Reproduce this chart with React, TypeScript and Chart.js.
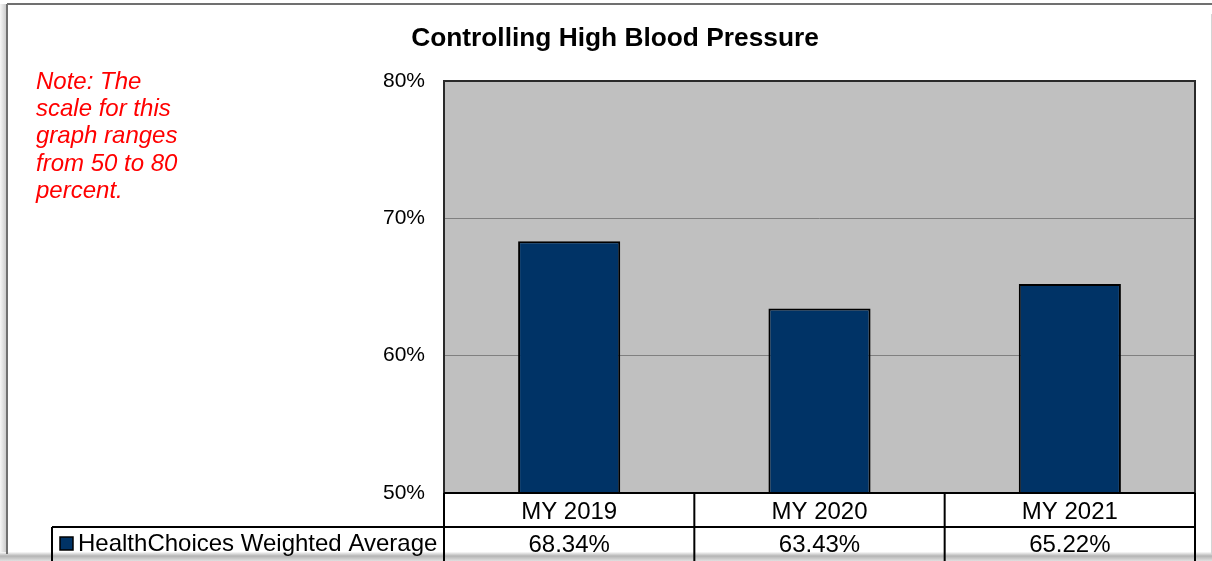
import React, { useEffect, useRef } from "react";
import { Chart, registerables } from "chart.js";

Chart.register(...registerables);

const TITLE = "Controlling High Blood Pressure";
const NOTE_LINES = ["Note: The", "scale for this", "graph ranges", "from 50 to 80", "percent."];
const CATEGORIES = ["MY 2019", "MY 2020", "MY 2021"];
const SERIES_LABEL = "HealthChoices Weighted Average";
const VALUES = [68.34, 63.43, 65.22];
const Y_MIN = 50;
const Y_MAX = 80;
const Y_STEP = 10;

const FONT = "'Liberation Sans', Arial, Helvetica, sans-serif";
const BAR_COLOR = "#003366";
const W = 1212;
const H = 561;

const decor = {
  id: "decor",
  beforeDraw(chart: any) {
    const { ctx, chartArea: a } = chart;
    ctx.save();
    ctx.fillStyle = "#ffffff";
    ctx.fillRect(0, 0, W, H);

    // outer frame shadow (left)
    let g = ctx.createLinearGradient(0, 0, 7, 0);
    g.addColorStop(0, "#f6f6f6");
    g.addColorStop(1, "#c6c6c6");
    ctx.fillStyle = g;
    ctx.fillRect(0, 4, 7, H - 4);
    // bottom band
    g = ctx.createLinearGradient(0, 552, 0, H);
    g.addColorStop(0, "#fafafa");
    g.addColorStop(0.45, "#b4b4b4");
    g.addColorStop(1, "#e0e0e0");
    ctx.fillStyle = g;
    ctx.fillRect(0, 552, W, H - 552);

    // frame lines
    ctx.strokeStyle = "#707070";
    ctx.lineWidth = 2;
    ctx.beginPath();
    ctx.moveTo(7, 4);
    ctx.lineTo(W, 4);
    ctx.stroke();
    ctx.beginPath();
    ctx.moveTo(7, 4);
    ctx.lineTo(7, 554);
    ctx.stroke();
    ctx.strokeStyle = "#d4d4d4";
    ctx.lineWidth = 1;
    ctx.beginPath();
    ctx.moveTo(1211.5, 14);
    ctx.lineTo(1211.5, 554);
    ctx.stroke();

    // plot background
    ctx.fillStyle = "#C0C0C0";
    ctx.fillRect(a.left, a.top, a.right - a.left, a.bottom - a.top);

    // title
    ctx.fillStyle = "#000";
    ctx.font = `bold 26.3px ${FONT}`;
    ctx.textAlign = "center";
    ctx.textBaseline = "alphabetic";
    ctx.fillText(TITLE, 615, 46);

    // note
    ctx.fillStyle = "#FF0000";
    ctx.font = `italic 24px ${FONT}`;
    ctx.textAlign = "left";
    NOTE_LINES.forEach((line, i) => {
      ctx.fillText(line, 36, 89 + i * 27.2);
    });
    ctx.restore();
  },
  beforeDatasetsDraw(chart: any) {
    const { ctx, chartArea: a } = chart;
    ctx.save();
    ctx.strokeStyle = "#2a2a2a";
    ctx.lineWidth = 2;
    ctx.strokeRect(a.left, a.top, a.right - a.left, a.bottom - a.top);
    ctx.restore();
  },
  afterDraw(chart: any) {
    const { ctx, chartArea: a } = chart;
    const xs = chart.scales.x;
    const n = CATEGORIES.length;
    const centers = CATEGORIES.map((_, i) => xs.getPixelForValue(i));
    const half = (a.right - a.left) / n / 2;
    const bounds = [centers[0] - half, ...centers.map((c) => c + half)];
    const row1Top = a.bottom;
    const row2Top = a.bottom + 34;
    const legendLeft = 52;

    ctx.save();
    ctx.strokeStyle = "#000";
    ctx.lineWidth = 2;
    ctx.beginPath();
    ctx.moveTo(bounds[0], row1Top);
    ctx.lineTo(bounds[n], row1Top);
    ctx.moveTo(legendLeft, row2Top);
    ctx.lineTo(bounds[n], row2Top);
    bounds.forEach((b) => {
      ctx.moveTo(b, row1Top);
      ctx.lineTo(b, H);
    });
    ctx.moveTo(legendLeft, row2Top);
    ctx.lineTo(legendLeft, H);
    ctx.stroke();

    ctx.fillStyle = "#000";
    ctx.font = `24px ${FONT}`;
    ctx.textAlign = "center";
    ctx.textBaseline = "alphabetic";
    CATEGORIES.forEach((c, i) => {
      ctx.fillText(c, centers[i], row1Top + 26);
    });
    VALUES.forEach((v, i) => {
      ctx.fillText(v.toFixed(2) + "%", centers[i], row2Top + 24.5);
    });

    // legend key
    ctx.fillStyle = BAR_COLOR;
    ctx.fillRect(60, 537, 13, 13);
    ctx.strokeStyle = "#000";
    ctx.lineWidth = 1.5;
    ctx.strokeRect(60, 537, 13, 13);
    ctx.fillStyle = "#000";
    ctx.textAlign = "left";
    ctx.fillText(SERIES_LABEL, 78, row2Top + 24);
    ctx.restore();
  },
};

export default function App() {
  const ref = useRef<HTMLCanvasElement | null>(null);

  useEffect(() => {
    if (!ref.current) return;
    const chart = new Chart(ref.current, {
      type: "bar",
      data: {
        labels: CATEGORIES,
        datasets: [
          {
            label: SERIES_LABEL,
            data: VALUES,
            backgroundColor: BAR_COLOR,
            borderColor: "#000000",
            borderWidth: 2,
            borderSkipped: false,
            categoryPercentage: 0.8,
            barPercentage: 0.51,
          },
        ],
      },
      options: {
        responsive: false,
        animation: false,
        devicePixelRatio: 1,
        layout: { padding: { left: 0, top: 81, right: 17, bottom: 68 } },
        plugins: {
          legend: { display: false },
          title: { display: false },
          tooltip: { enabled: false },
        },
        scales: {
          x: { display: false },
          y: {
            min: Y_MIN,
            max: Y_MAX,
            ticks: {
              stepSize: Y_STEP,
              padding: 19,
              color: "#000",
              font: { family: FONT, size: 21 },
              callback: (v: any) => v + "%",
            },
            grid: { color: "#808080", lineWidth: 1, drawTicks: false },
            border: { display: false },
            afterFit: (s: any) => {
              s.width = 444;
            },
          },
        },
      },
      plugins: [decor],
    } as any);
    return () => chart.destroy();
  }, []);

  return (
    <div style={{ position: "fixed", left: 0, top: 0, width: W, height: H, background: "#fff" }}>
      <canvas ref={ref} width={W} height={H} style={{ display: "block", width: W, height: H }} />
    </div>
  );
}
